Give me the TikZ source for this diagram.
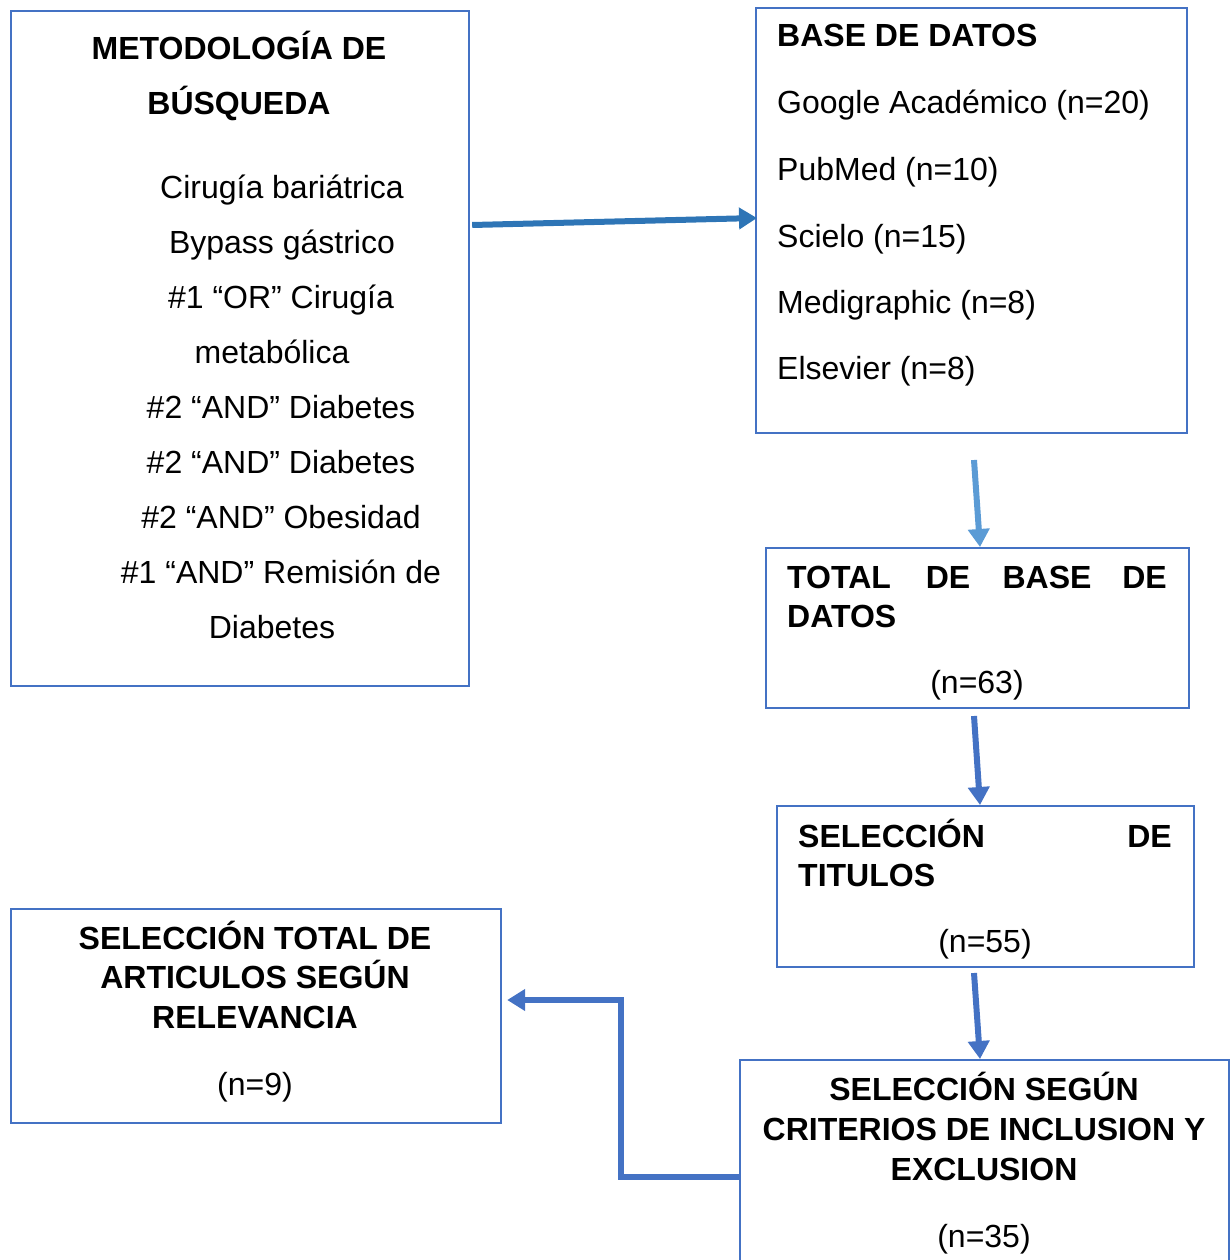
\documentclass[tikz,border=0pt]{standalone}
\usepackage{fontspec}
\setmainfont{Liberation Sans}
\usetikzlibrary{arrows.meta,calc}
\definecolor{boxblue}{HTML}{4472C4}
\definecolor{arrA}{HTML}{2E75B6}
\definecolor{arrB}{HTML}{5B9BD5}
\tikzset{
  box/.style={draw=boxblue, line width=2.2pt, rectangle, inner sep=0pt, anchor=north west},
  txt/.style={anchor=base, inner sep=0pt, font=\fontsize{32}{38}\selectfont},
  txtl/.style={txt, anchor=base west},
  txtr/.style={txt, anchor=base east},
  btxt/.style={txt, font=\fontsize{32}{38}\selectfont\bfseries},
  btxtl/.style={btxt, anchor=base west},
  btxtr/.style={btxt, anchor=base east},
  conn/.style={line width=6pt, -{Triangle[length=18pt,width=21pt]}},
}
\begin{document}
\begin{tikzpicture}[x=1pt,y=-1pt]
\useasboundingbox (0,0) rectangle (1230,1260);
% boxes
\node[box, minimum width=458pt, minimum height=675pt] (A) at (10,10) {};
\node[box, minimum width=431pt, minimum height=425pt] (B) at (755,7) {};
\node[box, minimum width=423pt, minimum height=160pt] (C) at (765,547) {};
\node[box, minimum width=417pt, minimum height=161pt] (D) at (776,805) {};
\node[box, minimum width=489pt, minimum height=215pt] (E) at (739,1059) {};
\node[box, minimum width=490pt, minimum height=214pt] (F) at (10,908) {};
% box A text
\node[btxt] (a1) at (239,60) {METODOLOGÍA DE};
\node[btxt] (a2) at (239,115) {BÚSQUEDA};
\node[txt] (a3) at (282,198) {Cirugía bariátrica};
\node[txt] (a4) at (282,253) {Bypass gástrico};
\node[txt] (a5) at (281,308) {\#1 “OR” Cirugía};
\node[txt] (a6) at (272,363) {metabólica};
\node[txt] (a7) at (281,418) {\#2 “AND” Diabetes};
\node[txt] (a8) at (281,473) {\#2 “AND” Diabetes};
\node[txt] (a9) at (281,528) {\#2 “AND” Obesidad};
\node[txt] (a10) at (281,583) {\#1 “AND” Remisión de};
\node[txt] (a11) at (272,638) {Diabetes};
% box B text
\node[btxtl] (b1) at (777,47) {BASE DE DATOS};
\node[txtl] (b2) at (777,114) {Google Académico (n=20)};
\node[txtl] (b3) at (777,181) {PubMed (n=10)};
\node[txtl] (b4) at (777,247) {Scielo (n=15)};
\node[txtl] (b5) at (777,313) {Medigraphic (n=8)};
\node[txtl] (b6) at (777,379) {Elsevier (n=8)};
% box C text
\node[btxtl] (c1) at (787,588) {TOTAL};
\node[btxt] (c2) at (948,588) {DE};
\node[btxt] (c3) at (1047,588) {BASE};
\node[btxtr] (c4) at (1167,588) {DE};
\node[btxtl] (c5) at (787,627) {DATOS};
\node[txt] (c6) at (977,693) {(n=63)};
% box D text
\node[btxtl] (d1) at (798,847) {SELECCIÓN};
\node[btxtr] (d2) at (1172,847) {DE};
\node[btxtl] (d3) at (798,886) {TITULOS};
\node[txt] (d4) at (985,952) {(n=55)};
% box F text
\node[btxt] (f1) at (255,949) {SELECCIÓN TOTAL DE};
\node[btxt] (f2) at (255,988) {ARTICULOS SEGÚN};
\node[btxt] (f3) at (255,1028) {RELEVANCIA};
\node[txt] (f4) at (255,1095) {(n=9)};
% box E text
\node[btxt] (e1) at (984,1100) {SELECCIÓN SEGÚN};
\node[btxt] (e2) at (984,1140) {CRITERIOS DE INCLUSION Y};
\node[btxt] (e3) at (984,1180) {EXCLUSION};
\node[txt] (e4) at (984,1247) {(n=35)};
% connectors
\coordinate (sB) at (974,460);
\coordinate (sC) at (974,716);
\coordinate (sD) at (974,973);
\draw[conn, arrA] ($(A.north east)+(2,215)$) -- ($(B.north west)+(2,211)$);
\draw[conn, arrB] (sB) -- (C.north -| 980,0);
\draw[conn, boxblue] (sC) -- (D.north -| 980,0);
\draw[conn, boxblue] (sD) -- (E.north -| 980,0);
\draw[conn, boxblue]
  ($(E.north west)+(0,118)$) -- (621,1177) -- (621,1000) -- ($(F.north east)+(5,92)$);
\end{tikzpicture}
\end{document}
